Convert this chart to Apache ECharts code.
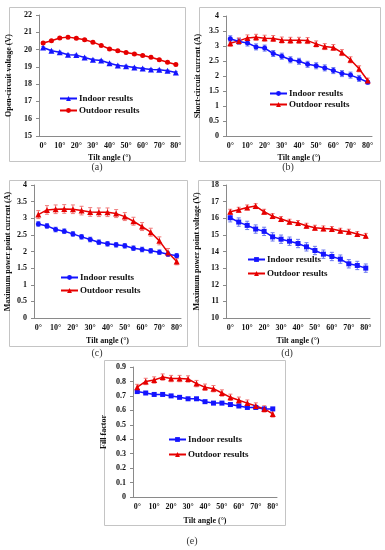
<!DOCTYPE html>
<html>
<head>
<meta charset="utf-8">
<script src="https://cdn.jsdelivr.net/npm/echarts@6/dist/echarts.min.js"></script>
<style>
html,body{margin:0;padding:0;background:#fff;}
#main{width:385px;height:550px;}
</style>
</head>
<body>
<div id="main"></div>
<script>
// ---- data ----
const tiltAngles = ['0°','5°','10°','15°','20°','25°','30°','35°','40°','45°','50°','55°','60°','65°','70°','75°','80°'];

// (a) Open-circuit voltage (V)
const vocIndoor  = [20.12,19.93,19.85,19.70,19.68,19.54,19.41,19.37,19.21,19.08,19.04,18.96,18.91,18.85,18.83,18.77,18.67];
const vocOutdoor = [20.38,20.51,20.67,20.72,20.65,20.57,20.43,20.24,20.03,19.93,19.83,19.74,19.66,19.56,19.41,19.27,19.14];
const vocIndoorErr  = [0.05,0.05,0.05,0.05,0.05,0.05,0.05,0.05,0.05,0.05,0.05,0.05,0.05,0.05,0.05,0.05,0.05];
const vocOutdoorErr = [0.06,0.06,0.06,0.06,0.06,0.06,0.06,0.06,0.06,0.06,0.06,0.06,0.06,0.06,0.06,0.06,0.06];

// (b) Short-circuit current (A)
const iscIndoor  = [3.24,3.15,3.10,2.97,2.93,2.75,2.66,2.54,2.49,2.39,2.34,2.27,2.18,2.08,2.03,1.92,1.79];
const iscOutdoor = [3.09,3.17,3.27,3.29,3.26,3.25,3.20,3.19,3.19,3.18,3.07,2.98,2.95,2.78,2.54,2.24,1.85];
const iscIndoorErr  = [0.1,0.1,0.1,0.1,0.1,0.1,0.1,0.1,0.1,0.1,0.1,0.1,0.1,0.1,0.1,0.1,0.06];
const iscOutdoorErr = [0.1,0.1,0.1,0.1,0.1,0.1,0.1,0.1,0.1,0.1,0.1,0.1,0.1,0.1,0.1,0.1,0.08];

// (c) Maximum power point current (A)
const impIndoor  = [2.83,2.77,2.66,2.61,2.53,2.44,2.36,2.28,2.23,2.20,2.17,2.10,2.06,2.02,1.98,1.92,1.87];
const impOutdoor = [3.11,3.25,3.27,3.28,3.27,3.23,3.19,3.18,3.18,3.14,3.05,2.91,2.75,2.58,2.32,1.97,1.70];
const impIndoorErr  = [0.07,0.07,0.07,0.07,0.07,0.07,0.07,0.07,0.07,0.07,0.07,0.07,0.07,0.07,0.07,0.07,0.07];
const impOutdoorErr = [0.12,0.13,0.13,0.13,0.13,0.13,0.13,0.13,0.13,0.12,0.12,0.12,0.12,0.12,0.12,0.12,0.1];

// (d) Maximum power point voltage (V)
const vmpIndoor  = [16.03,15.77,15.57,15.35,15.21,14.88,14.74,14.62,14.48,14.28,14.06,13.84,13.70,13.54,13.26,13.16,13.00];
const vmpOutdoor = [16.39,16.51,16.65,16.73,16.39,16.13,15.95,15.79,15.71,15.55,15.43,15.39,15.35,15.25,15.19,15.05,14.94];
const vmpIndoorErr  = [0.25,0.25,0.25,0.25,0.25,0.25,0.25,0.25,0.25,0.25,0.25,0.25,0.25,0.25,0.25,0.25,0.25];
const vmpOutdoorErr = [0.15,0.15,0.15,0.15,0.15,0.15,0.15,0.15,0.15,0.15,0.15,0.15,0.15,0.15,0.15,0.15,0.15];

// (e) Fill factor
const ffIndoor  = [0.73,0.72,0.71,0.71,0.70,0.69,0.68,0.68,0.66,0.65,0.65,0.64,0.63,0.62,0.62,0.61,0.61];
const ffOutdoor = [0.76,0.80,0.81,0.83,0.82,0.82,0.817,0.785,0.76,0.75,0.72,0.69,0.67,0.65,0.63,0.61,0.575];
const ffIndoorErr  = [0.004,0.004,0.004,0.004,0.004,0.004,0.004,0.004,0.004,0.004,0.004,0.004,0.004,0.004,0.004,0.004,0.004];
const ffOutdoorErr = [0.02,0.022,0.022,0.022,0.022,0.022,0.022,0.022,0.022,0.022,0.022,0.022,0.022,0.022,0.022,0.022,0.022];

// y-axis tick settings
const yTicks = {
  a: {min: 15, max: 22, interval: 1},
  b: {min: 0, max: 4, interval: 0.5},
  c: {min: 0, max: 4, interval: 0.5},
  d: {min: 10, max: 18, interval: 1},
  e: {min: 0, max: 0.9, interval: 0.1}
};
const yNames = {
  a: 'Open-circuit voltage (V)',
  b: 'Short-circuit current (A)',
  c: 'Maximum power point current (A)',
  d: 'Maximum power point voltage (V)',
  e: 'Fill factor'
};
const xName = 'Tilt angle (°)';
const legendNames = ['Indoor results', 'Outdoor results'];
const panelLabels = ['(a)','(b)','(c)','(d)','(e)'];

// ---- layout/style ----
const FONT = 'Liberation Serif';
const BLUE = '#1414ff';
const RED = '#e60000';
const BLUE_ERR = '#6a78f0';
const RED_ERR = '#f07a7a';

const panels = [
  {key:'a', indoor:vocIndoor, outdoor:vocOutdoor, inErr:vocIndoorErr, outErr:vocOutdoorErr,
   inSym:'triangle', outSym:'circle',
   grid:{left:39, top:15, width:141, height:121}, nameGap:26, xNameGap:18,
   legend:{left:59, top:94, gap:3}, box:[7,5,176,154], label:[97,167]},
  {key:'b', indoor:iscIndoor, outdoor:iscOutdoor, inErr:iscIndoorErr, outErr:iscOutdoorErr,
   inSym:'circle', outSym:'triangle',
   grid:{left:226, top:16, width:146, height:120}, nameGap:24, xNameGap:18,
   legend:{left:269, top:89, gap:2}, box:[197,5,181,154], label:[288,167]},
  {key:'c', indoor:impIndoor, outdoor:impOutdoor, inErr:impIndoorErr, outErr:impOutdoorErr,
   inSym:'circle', outSym:'triangle',
   grid:{left:34, top:185, width:147, height:133}, nameGap:22, xNameGap:19,
   legend:{left:60, top:273, gap:4}, box:[7,178,178,166], label:[97,353]},
  {key:'d', indoor:vmpIndoor, outdoor:vmpOutdoor, inErr:vmpIndoorErr, outErr:vmpOutdoorErr,
   inSym:'rect', outSym:'triangle',
   grid:{left:226, top:185, width:144, height:133}, nameGap:25, xNameGap:19,
   legend:{left:247, top:255, gap:5}, box:[196,178,182,166], label:[287,353]},
  {key:'e', indoor:ffIndoor, outdoor:ffOutdoor, inErr:ffIndoorErr, outErr:ffOutdoorErr,
   inSym:'rect', outSym:'triangle',
   grid:{left:133, top:367, width:144, height:130}, nameGap:25, xNameGap:20,
   legend:{left:168, top:435, gap:6}, box:[102,358,181,165], label:[192,541]}
];

const grids = [], xAxes = [], yAxes = [], series = [], legends = [], graphics = [];

function errRender(color){
  return function(params, api){
    const x = api.value(0);
    const lo = api.coord([x, api.value(1)]);
    const hi = api.coord([x, api.value(2)]);
    const cap = 2;
    const st = {stroke: color, lineWidth: 1};
    return {type:'group', children:[
      {type:'line', shape:{x1:lo[0], y1:lo[1], x2:hi[0], y2:hi[1]}, style:st},
      {type:'line', shape:{x1:lo[0]-cap, y1:lo[1], x2:lo[0]+cap, y2:lo[1]}, style:st},
      {type:'line', shape:{x1:hi[0]-cap, y1:hi[1], x2:hi[0]+cap, y2:hi[1]}, style:st}
    ]};
  };
}

panels.forEach((p, i) => {
  grids.push(Object.assign({containLabel:false}, p.grid));
  const axLine = {show:true, lineStyle:{color:'#8a8a8a', width:1}};
  xAxes.push({
    type:'category', gridIndex:i, data:tiltAngles, boundaryGap:true,
    axisLine:axLine, axisTick:{show:false},
    axisLabel:{interval:1, fontFamily:FONT, fontWeight:'bold', fontSize:8, color:'#111', margin:6},
    name:xName, nameLocation:'middle', nameGap:p.xNameGap,
    nameTextStyle:{fontFamily:FONT, fontWeight:'bold', fontSize:8, color:'#111'},
    splitLine:{show:false}
  });
  const yt = yTicks[p.key];
  yAxes.push({
    type:'value', gridIndex:i, min:yt.min, max:yt.max, interval:yt.interval,
    axisLine:axLine, axisTick:{show:true, length:3, lineStyle:{color:'#8a8a8a'}},
    axisLabel:{fontFamily:FONT, fontWeight:'bold', fontSize:8, color:'#111', margin:7},
    splitLine:{show:false},
    name:yNames[p.key], nameLocation:'middle', nameGap:p.nameGap, nameRotate:90,
    nameTextStyle:{fontFamily:FONT, fontWeight:'bold', fontSize:8, color:'#111'}
  });
  const nIn = p.key + '|' + legendNames[0];
  const nOut = p.key + '|' + legendNames[1];
  series.push({
    type:'custom', name:p.key+'|errIn', xAxisIndex:i, yAxisIndex:i,
    renderItem:errRender(BLUE_ERR), z:1, silent:true,
    data:p.indoor.map((v,k)=>[k, v - p.inErr[k], v + p.inErr[k]])
  });
  series.push({
    type:'custom', name:p.key+'|errOut', xAxisIndex:i, yAxisIndex:i,
    renderItem:errRender(RED_ERR), z:1, silent:true,
    data:p.outdoor.map((v,k)=>[k, v - p.outErr[k], v + p.outErr[k]])
  });
  series.push({
    type:'line', name:nIn, xAxisIndex:i, yAxisIndex:i, data:p.indoor,
    symbol:p.inSym, symbolSize: p.inSym==='triangle'?6:5, showAllSymbol:true,
    lineStyle:{color:BLUE, width:1.5}, itemStyle:{color:BLUE}, z:3
  });
  series.push({
    type:'line', name:nOut, xAxisIndex:i, yAxisIndex:i, data:p.outdoor,
    symbol:p.outSym, symbolSize: p.outSym==='triangle'?6:5, showAllSymbol:true,
    lineStyle:{color:RED, width:1.5}, itemStyle:{color:RED}, z:3
  });
  legends.push({
    data:[nIn, nOut], orient:'vertical', left:p.legend.left, top:p.legend.top,
    itemWidth:17, itemHeight:6, itemGap:p.legend.gap, padding:0,
    formatter:n => n.split('|')[1],
    textStyle:{fontFamily:FONT, fontWeight:'bold', fontSize:9, color:'#111', padding:[0,0,0,-3]},
    selectedMode:false
  });
  graphics.push({
    type:'rect', left:p.box[0], top:p.box[1], silent:true,
    shape:{x:0, y:0, width:p.box[2], height:p.box[3]},
    style:{fill:null, stroke:'#c4c4c4', lineWidth:1}
  });
  graphics.push({
    type:'text', x:p.label[0], y:p.label[1], silent:true,
    style:{text:panelLabels[i], fontFamily:FONT, fontSize:10, fill:'#333', align:'center', verticalAlign:'middle'}
  });
});

const chart = echarts.init(document.getElementById('main'), null, {renderer:'canvas'});
chart.setOption({
  animation:false,
  backgroundColor:'#ffffff',
  grid:grids, xAxis:xAxes, yAxis:yAxes, series:series, legend:legends,
  graphic:graphics
});
</script>
</body>
</html>
